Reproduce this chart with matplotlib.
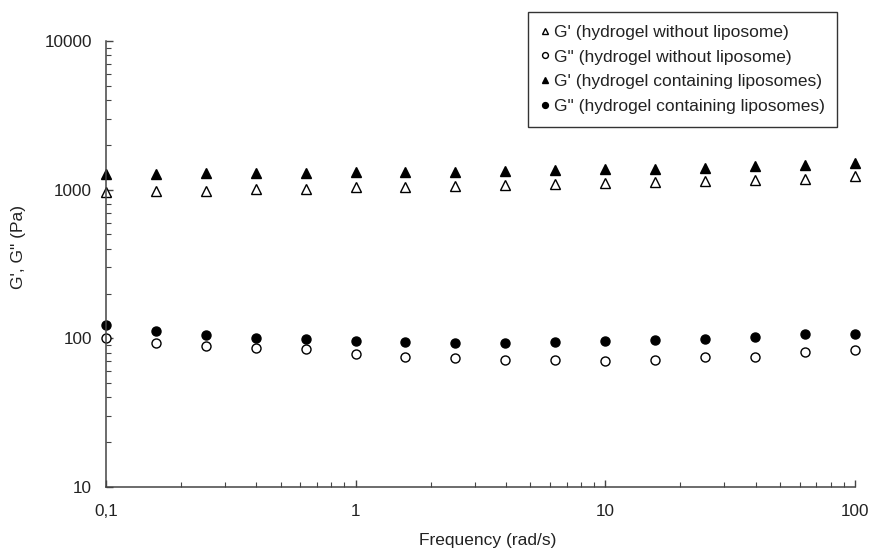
import matplotlib
matplotlib.use("Agg")
import matplotlib.pyplot as plt
from matplotlib.ticker import FixedLocator, LogLocator, NullFormatter

plt.rcParams["font.family"] = ["Liberation Sans", "DejaVu Sans"]

# frequence (rad/s), 5 points par decade
freq = [0.1, 0.158, 0.251, 0.398, 0.631, 1.0, 1.58, 2.51, 3.98, 6.31,
        10.0, 15.8, 25.1, 39.8, 63.1, 100.0]

# hydrogel sans liposome
g1_sans = [965, 974, 985, 1011, 1015, 1036, 1043, 1064, 1080, 1092,
           1102, 1119, 1137, 1162, 1185, 1228]
g2_sans = [100, 92.6, 89.3, 86.6, 84.4, 78.9, 75.4, 73.8, 71.2, 71.5,
           70.4, 71.5, 74.5, 74.9, 81.4, 83.5]

# hydrogel avec liposomes
g1_lipo = [1274, 1280, 1290, 1294, 1300, 1310, 1315, 1321, 1341, 1355,
           1368, 1383, 1405, 1434, 1465, 1510]
g2_lipo = [122.8, 111.4, 105.2, 100, 98.9, 95.5, 94.4, 93.6, 93.6, 94,
           95.9, 96.9, 99.5, 102, 107.5, 107.5]

labels = ["G' (hydrogel without liposome)",
          'G" (hydrogel without liposome)',
          "G' (hydrogel containing liposomes)",
          'G" (hydrogel containing liposomes)']

xticks = [0.1, 1, 10, 100]
xticklabels = ["0,1", "1", "10", "100"]
yticks = [10, 100, 1000, 10000]
yticklabels = ["10", "100", "1000", "10000"]

fig = plt.figure(figsize=(8.7, 5.49), dpi=100)
ax = fig.add_axes([106 / 870, 1 - 487 / 549, 749 / 870, 446 / 549])

ms = 6.5
ax.plot(freq, g1_sans, linestyle="none", marker="^", ms=ms, mfc="white",
        mec="black", mew=1.0, clip_on=False, label=labels[0])
ax.plot(freq, g2_sans, linestyle="none", marker="o", ms=ms, mfc="white",
        mec="black", mew=1.0, clip_on=False, label=labels[1])
ax.plot(freq, g1_lipo, linestyle="none", marker="^", ms=ms, mfc="black",
        mec="black", mew=1.0, clip_on=False, label=labels[2])
ax.plot(freq, g2_lipo, linestyle="none", marker="o", ms=ms, mfc="black",
        mec="black", mew=1.0, clip_on=False, label=labels[3])

ax.set_xscale("log")
ax.set_yscale("log")
ax.set_xlim(0.1, 100)
ax.set_ylim(10, 10000)

ax.xaxis.set_major_locator(FixedLocator(xticks))
ax.set_xticklabels(xticklabels)
ax.yaxis.set_major_locator(FixedLocator(yticks))
ax.set_yticklabels(yticklabels)
ax.xaxis.set_minor_locator(LogLocator(base=10, subs=range(2, 10)))
ax.yaxis.set_minor_locator(LogLocator(base=10, subs=range(2, 10)))
ax.xaxis.set_minor_formatter(NullFormatter())
ax.yaxis.set_minor_formatter(NullFormatter())

for s in ["top", "right"]:
    ax.spines[s].set_visible(False)
for s in ["left", "bottom"]:
    ax.spines[s].set_color("#444444")
    ax.spines[s].set_linewidth(1.1)

ax.tick_params(which="major", direction="in", length=5, width=1,
               color="#444444", labelsize=12.3, labelcolor="#222222")
ax.tick_params(which="minor", direction="in", length=3.5, width=0.8,
               color="#444444")
ax.tick_params(axis="x", which="major", pad=12)
ax.tick_params(axis="y", which="major", pad=10)

ax.set_xlabel("Frequency (rad/s)", fontsize=12.5, color="#222222")
ax.xaxis.set_label_coords(0.509, -0.103)
ax.set_ylabel("G', G\" (Pa)", fontsize=12.5, color="#222222")
ax.yaxis.set_label_coords(-0.107, 0.538)

leg = ax.legend(loc="upper right", bbox_to_anchor=(837 / 870, 1 - 12 / 549),
                bbox_transform=fig.transFigure, borderaxespad=0,
                fontsize=12.5, markerscale=0.65, handlelength=0.5,
                handletextpad=0.25, labelspacing=0.56, borderpad=0.72,
                fancybox=False, frameon=True, framealpha=1)
leg.get_frame().set_edgecolor("#333333")
leg.get_frame().set_linewidth(1.0)
for t in leg.get_texts():
    t.set_color("#222222")

fig.savefig("out.png", dpi=100)
